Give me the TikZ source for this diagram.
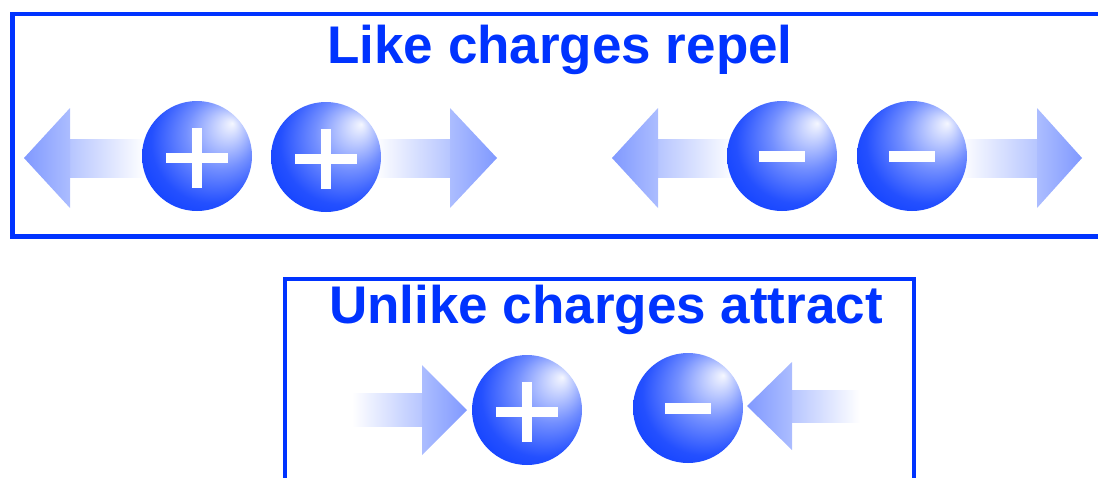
\documentclass[tikz,border=0pt]{standalone}
\usepackage{fontspec}
\setmainfont{Liberation Sans}
\definecolor{cblue}{RGB}{0,51,255}
\definecolor{arrtip}{RGB}{128,153,255}
\definecolor{arrhead}{RGB}{172,189,255}
\definecolor{arrshaft}{RGB}{182,197,255}
\pgfdeclareradialshading{chargeball}{\pgfpoint{16bp}{15bp}}{color(0bp)=(white!96!cblue); color(5bp)=(white!80!cblue); color(16bp)=(white!45!cblue); color(28bp)=(white!14!cblue); color(42bp)=(cblue); color(50bp)=(cblue)}
\newcommand\chargearrowL[6]{%
  \shade[left color=arrshaft, right color=white] (#2-0.5,#4-#6) rectangle (#3,#4+#6);
  \shade[left color=arrtip, right color=arrhead] (#1,#4) -- (#2,#4-#5) -- (#2,#4+#5) -- cycle;
}
\newcommand\chargearrowR[6]{%
  \shade[left color=white, right color=arrshaft] (#3,#4-#6) rectangle (#2+0.5,#4+#6);
  \shade[left color=arrhead, right color=arrtip] (#2,#4-#5) -- (#1,#4) -- (#2,#4+#5) -- cycle;
}
\newcommand\plussign[1]{%
  \fill[signfill] ([shift={(-31,-3)}]#1.center) rectangle ([shift={(31,7)}]#1.center);
  \fill[signfill] ([shift={(-5,-28)}]#1.center) rectangle ([shift={(5,32)}]#1.center);
}
\newcommand\minussign[1]{%
  \fill[signfill] ([shift={(-23,-5.5)}]#1.center) rectangle ([shift={(23,5.5)}]#1.center);
}
\begin{document}
\begin{tikzpicture}[x=1pt,y=-1pt,
  boxline/.style={draw=cblue, line width=4.5pt},
  title/.style={text=cblue, font=\fontsize{53}{60}\selectfont\bfseries, anchor=base, inner sep=0pt},
  charge/.style={circle, minimum size=110pt, inner sep=0pt, shading=chargeball},
  signfill/.style={fill=white},
  ]
\useasboundingbox (0,0) rectangle (1098,477);
\draw[boxline] (1110,14) -- (12.5,14) -- (12.5,236.5) -- (1110,236.5);
\draw[boxline] (285,490) -- (285,279) -- (914,279) -- (914,490);
\node[title] (t1) at (560,63) {Like charges repel};
\node[title] (t2) at (606,323) {Unlike charges attract};
% arrows
\chargearrowL{24}{70}{145}{158}{50}{19}
\chargearrowR{497}{450}{375}{158}{50}{19}
\chargearrowL{612}{658}{735}{158}{50}{19}
\chargearrowR{1082}{1037}{960}{158}{50}{19}
\chargearrowR{467}{422}{352}{410}{45}{16.5}
\chargearrowL{747}{792}{860}{406}{44}{16}
% charges
\node[charge] (p1) at (197,156) {};
\node[charge] (p2) at (326,157) {};
\node[charge] (n1) at (782,156) {};
\node[charge] (n2) at (912,156) {};
\node[charge] (p3) at (527,410) {};
\node[charge] (n3) at (688,408) {};
\plussign{p1}
\plussign{p2}
\plussign{p3}
\minussign{n1}
\minussign{n2}
\minussign{n3}
\end{tikzpicture}
\end{document}
